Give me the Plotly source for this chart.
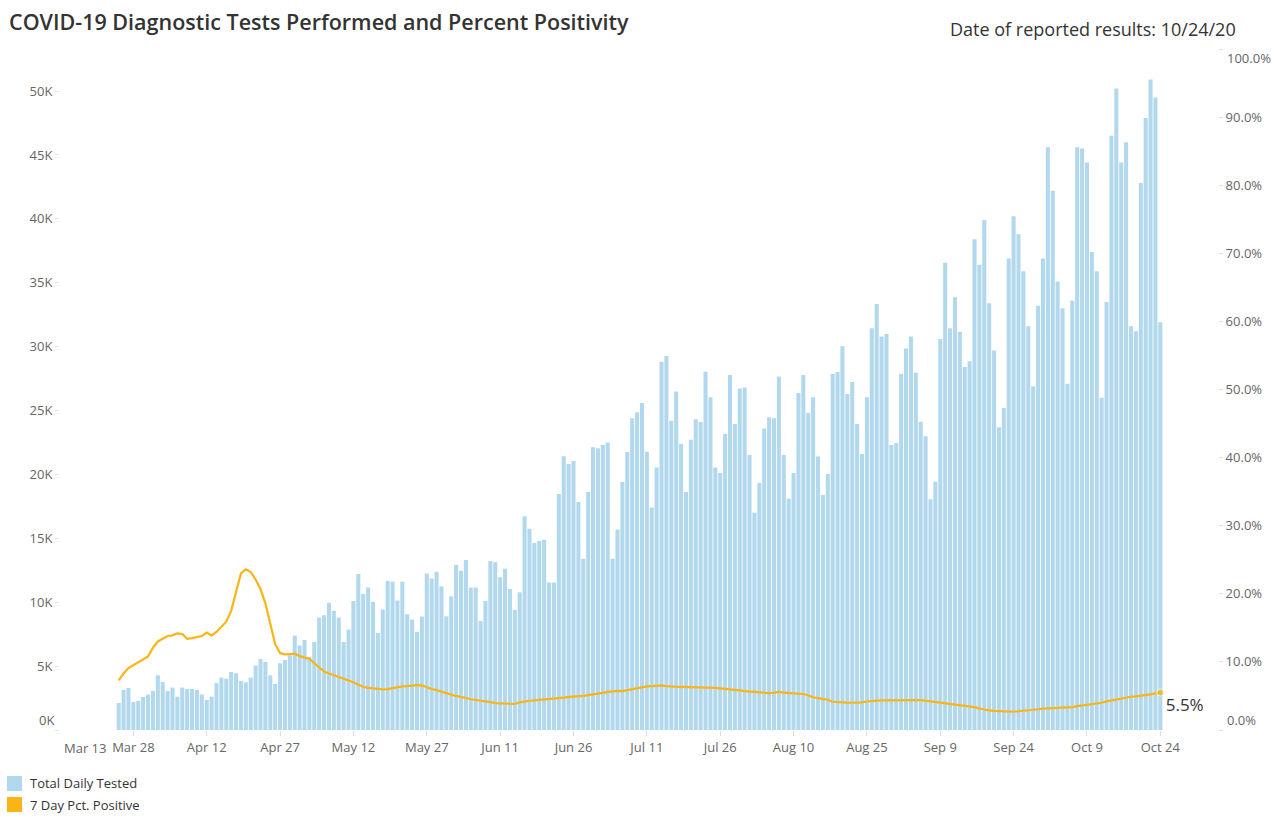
import plotly.graph_objects as go
import pandas as pd

# ---------------- data ----------------
dates = pd.date_range("2020-03-25", "2020-10-24", freq="D")

total_daily_tested = [
    2110, 3130, 3290, 2190, 2270, 2580, 2770, 3050, 4280, 3760,
    3050, 3320, 2610, 3320, 3210, 3210, 3130, 2790, 2350, 2610,
    3680, 4100, 4020, 4540, 4440, 3840, 3730, 4100, 5040, 5560,
    5330, 4280, 3600, 5220, 5480, 5850, 7390, 6610, 7050, 5740,
    6890, 8790, 8980, 9950, 9320, 8790, 6890, 7860, 10100, 12200,
    10650, 11150, 10030, 7600, 9430, 11670, 11600, 10130, 11600, 9060,
    8640, 7680, 8880, 12250, 11860, 12380, 11250, 8900, 10470, 12920,
    12460, 13300, 11160, 11160, 8530, 10090, 13220, 13120, 11950, 12620,
    11030, 9390, 10770, 16720, 15750, 14630, 14790, 14890, 11550, 11550,
    18470, 21420, 20810, 21050, 17840, 13410, 18620, 22120, 22040, 22300,
    22500, 13410, 15680, 19400, 21750, 24400, 24860, 25590, 21770, 17420,
    20550, 28820, 29260, 24200, 26480, 22380, 18620, 22720, 24310, 24100,
    28040, 26030, 20550, 20110, 23160, 27780, 23940, 26730, 26810, 21520,
    17000, 19330, 23600, 24470, 24390, 27670, 21520, 18100, 20110, 26370,
    27780, 24800, 26030, 21410, 18390, 20030, 27860, 28010, 30020, 26290,
    27230, 23940, 21600, 26030, 31430, 33330, 30800, 30990, 22300, 22460,
    27860, 29860, 30800, 27950, 24130, 22980, 18050, 19430, 30600, 36570,
    31430, 33860, 31170, 28400, 28850, 38400, 36400, 39900, 33400, 29700,
    23700, 25200, 36900, 40200, 38800, 35900, 31600, 26900, 33200, 36900,
    45600, 42200, 35100, 33000, 27100, 33600, 45600, 45500, 44400, 37400,
    35900, 26000, 33500, 46500, 50200, 44400, 46000, 31600, 31200, 42800,
    47900, 50900, 49500, 31900,
]

pct_positive_7day = [
    7.3, 8.3, 9.1, 9.5, 10.0, 10.3, 10.8, 12.1, 13.0, 13.4,
    13.8, 13.9, 14.2, 14.1, 13.4, 13.5, 13.6, 13.8, 14.3, 13.9,
    14.4, 15.1, 15.9, 17.5, 20.3, 23.0, 23.6, 23.2, 22.1, 20.7,
    18.6, 15.4, 12.6, 11.3, 11.1, 11.15, 11.2, 10.85, 10.65, 10.45,
    9.8, 9.15, 8.6, 8.3, 8.05, 7.75, 7.5, 7.3, 7.0, 6.65,
    6.35, 6.18, 6.1, 6.02, 5.98, 6.0, 6.15, 6.35, 6.4, 6.45,
    6.52, 6.6, 6.55, 6.25, 6.02, 5.85, 5.6, 5.4, 5.2, 5.0,
    4.9, 4.7, 4.52, 4.43, 4.35, 4.22, 4.1, 3.95, 3.9, 3.85,
    3.82, 3.82, 4.05, 4.2, 4.3, 4.34, 4.4, 4.5, 4.58, 4.6,
    4.65, 4.75, 4.87, 4.9, 4.92, 5.0, 5.12, 5.2, 5.35, 5.45,
    5.6, 5.7, 5.75, 5.7, 5.85, 5.95, 6.1, 6.3, 6.4, 6.45,
    6.55, 6.55, 6.45, 6.35, 6.35, 6.32, 6.3, 6.32, 6.34, 6.32,
    6.29, 6.25, 6.18, 6.1, 6.05, 6.02, 5.98, 5.82, 5.72, 5.66,
    5.64, 5.58, 5.5, 5.42, 5.48, 5.6, 5.5, 5.4, 5.37, 5.33,
    5.29, 5.1, 4.8, 4.68, 4.62, 4.45, 4.15, 4.08, 4.04, 4.02,
    4.0, 4.0, 4.05, 4.18, 4.29, 4.32, 4.34, 4.36, 4.39, 4.37,
    4.35, 4.36, 4.38, 4.39, 4.39, 4.29, 4.29, 4.1, 4.0, 3.9,
    3.8, 3.7, 3.62, 3.55, 3.47, 3.35, 3.15, 2.98, 2.88, 2.8,
    2.75, 2.7, 2.65, 2.68, 2.75, 2.8, 2.87, 2.93, 3.05, 3.15,
    3.18, 3.2, 3.22, 3.26, 3.3, 3.37, 3.5, 3.6, 3.7, 3.8,
    3.86, 4.0, 4.2, 4.35, 4.5, 4.64, 4.76, 4.88, 4.93, 5.0,
    5.08, 5.22, 5.37, 5.5,
]

x_tick_dates = ["2020-03-28", "2020-04-12", "2020-04-27", "2020-05-12", "2020-05-27",
                "2020-06-11", "2020-06-26", "2020-07-11", "2020-07-26", "2020-08-10",
                "2020-08-25", "2020-09-09", "2020-09-24", "2020-10-09", "2020-10-24"]
x_tick_labels = ["Mar 28", "Apr 12", "Apr 27", "May 12", "May 27", "Jun 11", "Jun 26",
                 "Jul 11", "Jul 26", "Aug 10", "Aug 25", "Sep 9", "Sep 24", "Oct 9", "Oct 24"]
first_tick_label = "Mar 13"

left_tick_vals = [0, 5000, 10000, 15000, 20000, 25000, 30000, 35000, 40000, 45000, 50000]
left_tick_text = ["0K", "5K", "10K", "15K", "20K", "25K", "30K", "35K", "40K", "45K", "50K"]
right_tick_vals = [0.0, 0.1, 0.2, 0.3, 0.4, 0.5, 0.6, 0.7, 0.8, 0.9, 1.0]
right_tick_text = ["0.0%", "10.0%", "20.0%", "30.0%", "40.0%", "50.0%",
                   "60.0%", "70.0%", "80.0%", "90.0%", "100.0%"]

title_text = "COVID-19 Diagnostic Tests Performed and Percent Positivity"
date_text = "Date of reported results: 10/24/20"
legend_names = ["Total Daily Tested", "7 Day Pct. Positive"]

# ---------------- style ----------------
BAR_COLOR = "#b2d8ee"
LINE_COLOR = "#fbb415"
TICK_COLOR = "#666666"
TEXT_COLOR = "#333333"
FONT = "Open Sans"

W, H = 1280, 819
L, R, T, B = 60, 62, 49, 89


def px_x(px):
    return (px - L) / (W - L - R)


def px_y(py):
    return (H - B - py) / (H - T - B)


pct_frac = [v / 100.0 for v in pct_positive_7day]
last_label = ["" for _ in pct_frac]
last_label[-1] = f"{pct_positive_7day[-1]:.1f}%"
marker_sizes = [0 for _ in pct_frac]
marker_sizes[-1] = 7

# edge tick labels are drawn nudged inward (as in the reference), the rest by the axes
left_axis_text = [""] + left_tick_text[1:]
right_axis_text = [""] + right_tick_text[1:-1] + [""]

fig = go.Figure()
fig.add_trace(go.Bar(
    x=dates, y=total_daily_tested, name=legend_names[0],
    marker=dict(color=BAR_COLOR, line=dict(width=0)),
    yaxis="y", showlegend=False,
))
fig.add_trace(go.Scatter(
    x=dates, y=pct_frac, name=legend_names[1], yaxis="y2",
    mode="lines+markers+text",
    line=dict(color=LINE_COLOR, width=2.2),
    marker=dict(color=LINE_COLOR, size=marker_sizes),
    text=last_label, textposition="bottom right",
    textfont=dict(family=FONT, size=17, color=TEXT_COLOR),
    cliponaxis=False, showlegend=False,
))

tickfont = dict(family=FONT, size=13, color=TICK_COLOR)

annotations = [
    dict(text=title_text, xref="paper", yref="paper", x=px_x(7), y=px_y(22),
         xanchor="left", yanchor="middle", showarrow=False,
         font=dict(family=FONT, size=21.5, color=TEXT_COLOR, weight=600)),
    dict(text=date_text, xref="paper", yref="paper", x=px_x(1238), y=px_y(29),
         xanchor="right", yanchor="middle", showarrow=False,
         font=dict(family=FONT, size=18, color=TEXT_COLOR)),
    dict(text=first_tick_label, xref="paper", yref="paper", x=px_x(85), y=px_y(748),
         xanchor="center", yanchor="middle", showarrow=False, font=tickfont),
    dict(text=left_tick_text[0], xref="paper", yref="paper", x=px_x(56), y=px_y(720),
         xanchor="right", yanchor="middle", showarrow=False, font=tickfont),
    dict(text=right_tick_text[0], xref="paper", yref="paper", x=px_x(1225), y=px_y(720),
         xanchor="left", yanchor="middle", showarrow=False, font=tickfont),
    dict(text=right_tick_text[-1], xref="paper", yref="paper", x=px_x(1225), y=px_y(58),
         xanchor="left", yanchor="middle", showarrow=False, font=tickfont),
    dict(text=legend_names[0], xref="paper", yref="paper", x=px_x(28), y=px_y(783),
         xanchor="left", yanchor="middle", showarrow=False,
         font=dict(family=FONT, size=13, color=TEXT_COLOR)),
    dict(text=legend_names[1], xref="paper", yref="paper", x=px_x(28), y=px_y(805),
         xanchor="left", yanchor="middle", showarrow=False,
         font=dict(family=FONT, size=13, color=TEXT_COLOR)),
]

fig.update_layout(
    width=W, height=H,
    margin=dict(l=L, r=R, t=T, b=B, pad=0),
    paper_bgcolor="white", plot_bgcolor="white",
    bargap=0.17,
    font=dict(family=FONT, color=TEXT_COLOR),
    xaxis=dict(
        type="date", range=["2020-03-13", "2020-11-04 19:00"],
        tickvals=x_tick_dates, ticktext=x_tick_labels,
        ticks="outside", ticklen=5, tickcolor="#dcdcdc", tickwidth=1,
        tickfont=tickfont, showgrid=False, zeroline=False, showline=False,
    ),
    yaxis=dict(
        range=[0, 53290], tickvals=left_tick_vals, ticktext=left_axis_text,
        ticks="outside", ticklen=4, tickcolor="#e3e3e3",
        tickfont=tickfont, showgrid=False, zeroline=False, showline=False,
    ),
    yaxis2=dict(
        range=[0, 1], tickvals=right_tick_vals, ticktext=right_axis_text,
        overlaying="y", side="right",
        ticks="outside", ticklen=4, tickcolor="#e3e3e3",
        tickfont=tickfont, showgrid=False, zeroline=False, showline=False,
    ),
    shapes=[
        dict(type="rect", xref="paper", yref="paper",
             x0=px_x(7), x1=px_x(22), y0=px_y(791), y1=px_y(776),
             fillcolor=BAR_COLOR, line=dict(width=0)),
        dict(type="rect", xref="paper", yref="paper",
             x0=px_x(7), x1=px_x(22), y0=px_y(812), y1=px_y(797),
             fillcolor=LINE_COLOR, line=dict(width=0)),
    ],
    annotations=annotations,
)

fig.write_html("out.html", config={"displayModeBar": False},
               post_script="document.body.style.margin='0';document.body.style.overflow='hidden';")
